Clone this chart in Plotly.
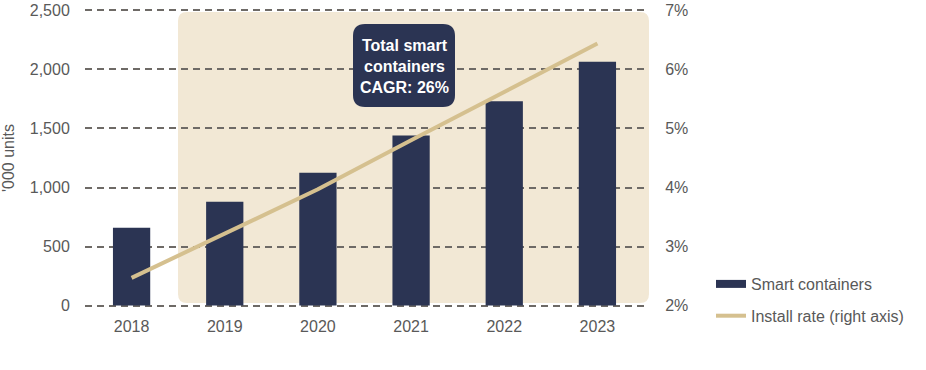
import plotly.graph_objects as go

years = ["2018", "2019", "2020", "2021", "2022", "2023"]
smart_containers = [660, 880, 1125, 1440, 1730, 2065]
install_rate = [2.47, 3.22, 3.97, 4.8, 5.62, 6.44]
left_ticks = [0, 500, 1000, 1500, 2000, 2500]
right_ticks = [2, 3, 4, 5, 6, 7]
right_labels = ["2%", "3%", "4%", "5%", "6%", "7%"]

NAVY = "#2B3453"
GOLD = "#D5C08F"
SHADE = "#F2E8D5"
GREY = "#595959"
GRID = "#6E6A66"
FS = 16

W, H = 926, 370
ML, MR, MT, MB = 85, 282, 9, 63
PW, PH = W - ML - MR, H - MT - MB
PAD = 12  # small range padding so edge gridlines are drawn


def px2paper(x, y):
    return (x - ML) / PW, (H - MB - y) / PH


def rounded_rect(x0, y0, x1, y1, r):
    rx, ry = r / PW, r / PH
    a0, b1 = px2paper(x0, y0)
    a1, b0 = px2paper(x1, y1)
    return (f"M{a0+rx},{b1} L{a1-rx},{b1} Q{a1},{b1} {a1},{b1-ry} "
            f"L{a1},{b0+ry} Q{a1},{b0} {a1-rx},{b0} L{a0+rx},{b0} "
            f"Q{a0},{b0} {a0},{b0+ry} L{a0},{b1-ry} Q{a0},{b1} {a0+rx},{b1} Z")


fig = go.Figure()
fig.add_trace(go.Bar(
    x=years, y=smart_containers, name="Smart containers",
    marker=dict(color=NAVY, line=dict(width=0)), width=0.4,
    showlegend=False,
))
# legend entry for bars (wide rectangle symbol like the reference)
fig.add_trace(go.Scatter(
    x=[None], y=[None], name="Smart containers", mode="lines",
    line=dict(color=NAVY, width=8), legendgroup="a", hoverinfo="skip",
))
fig.add_trace(go.Scatter(
    x=years, y=install_rate, name="Install rate (right axis)", yaxis="y2",
    mode="lines", line=dict(color=GOLD, width=4), legendgroup="b",
))

fig.add_shape(type="path", xref="paper", yref="paper", layer="below",
              path=rounded_rect(178, 12, 649, 303, 9),
              fillcolor=SHADE, line=dict(width=0))
fig.add_shape(type="path", xref="paper", yref="paper", layer="above",
              path=rounded_rect(353, 24, 455, 107, 12),
              fillcolor=NAVY, line=dict(width=0))

cx, cy = px2paper(404, 66)
fig.add_annotation(xref="paper", yref="paper", x=cx, y=cy, showarrow=False,
                   xanchor="center", yanchor="middle",
                   text="<b>Total smart<br>containers<br>CAGR: 26%</b>",
                   font=dict(family="Liberation Sans, Arial", size=FS, color="white"),
                   align="center")

lx, ly = px2paper(711, 267)
fig.update_layout(
    width=W, height=H,
    margin=dict(l=ML, r=MR, t=MT, b=MB, autoexpand=False),
    plot_bgcolor="rgba(0,0,0,0)", paper_bgcolor="white",
    font=dict(family="Liberation Sans, Arial", size=FS, color=GREY),
    showlegend=True,
    legend=dict(x=lx, xanchor="left", y=ly, yanchor="top",
                tracegroupgap=8, font=dict(size=FS, color=GREY),
                bgcolor="rgba(0,0,0,0)"),
    xaxis=dict(type="category", showgrid=False, zeroline=False, showline=False,
               automargin=False,
               ticks="outside", ticklen=5, tickcolor="rgba(0,0,0,0)",
               tickfont=dict(size=FS, color=GREY)),
    yaxis=dict(range=[-PAD, 2500 + PAD], tickvals=left_ticks, tickformat=",",
               automargin=False,
               showgrid=True, gridcolor=GRID, gridwidth=1.6, griddash="7px,5px",
               zeroline=False, showline=False,
               ticks="outside", ticklen=11, tickcolor="rgba(0,0,0,0)",
               tickfont=dict(size=FS, color=GREY),
               title=dict(text="'000 units", font=dict(size=FS, color=GREY), standoff=14)),
    yaxis2=dict(range=[2 - PAD / 500, 7 + PAD / 500], tickvals=right_ticks,
                ticktext=right_labels, automargin=False,
                overlaying="y", side="right", showgrid=False, zeroline=False,
                showline=False, ticks="outside", ticklen=17,
                tickcolor="rgba(0,0,0,0)", tickfont=dict(size=FS, color=GREY)),
)

fig.write_html("out.html", config={"displayModeBar": False},
               post_script="document.body.style.margin='0';document.body.style.padding='0';")
